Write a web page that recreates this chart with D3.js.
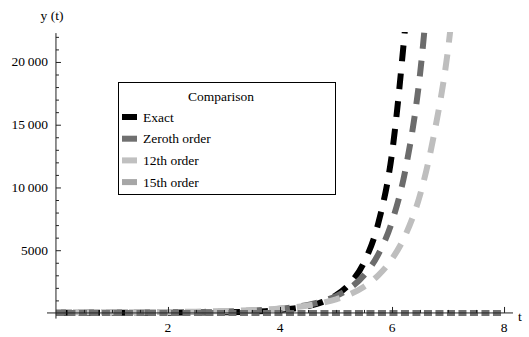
<!DOCTYPE html>
<html>
<head>
<meta charset="utf-8">
<script src="https://cdn.jsdelivr.net/npm/d3@7"></script>
<style>
  html, body { margin: 0; padding: 0; background: #fff; }
  svg { display: block; }
  svg text { font-family: "Liberation Serif", "Tinos", "Times New Roman", "DejaVu Serif", serif !important; }
</style>
</head>
<body>
<svg id="chart" width="529" height="337"></svg>
<script>
// Sample times shared by every series
const tValues = [0, 0.5, 1, 1.5, 2, 2.5, 3, 3.5, 4,
  4.25, 4.5, 4.75, 5, 5.25, 5.5, 5.75, 6, 6.25, 6.5, 6.75, 7, 7.25, 7.5, 7.75, 8];

// y(t) for each solution (null = beyond the plotted range)
const exactValues = [9.5, 10, 11.6, 14.9, 21.1, 33.2, 57.5, 110, 233,
  352, 545, 866, 1410, 2354, 4029, 7071, 12721, 23500,
  null, null, null, null, null, null, null];
const zerothValues = [28.6, 29.7, 33.4, 40.4, 52.9, 74.8, 114, 188, 335,
  460, 645, 920, 1339, 1985, 3003, 4630, 7273, 11657, 19022, 31690,
  null, null, null, null, null];
const order12Values = [47.8, 49.3, 54.2, 63.3, 78.8, 104, 147, 221, 353,
  457, 601, 802, 1088, 1499, 2096, 2980, 4302, 6310, 9398, 14221, 21000, 32000,
  null, null, null];
const order15Values = [0, 0, 0, 0, 0, 0, 0, 0, 0,
  0, 0, 0, 0, 0, 0, 0, 0, 0, 0, 0, 0, 0, 0, 0, 0];

const seriesNames = ["Exact", "Zeroth order", "12th order", "15th order"];
const seriesValues = [exactValues, zerothValues, order12Values, order15Values];
const seriesColors = ["#000000", "#6c6c6c", "#bebebe", "#707070"];
const legendColors = ["#000000", "#707070", "#c0c0c0", "#a6a6a6"];
const seriesDash = ["16,12", "16,12", "16,12", "8,3.5"];
const seriesDashOffset = [0, 6, 11, 0];

const xTicks = [2, 4, 6, 8];
const yTicks = [5000, 10000, 15000, 20000];
const yTickLabels = ["5000", "10\u2009000", "15\u2009000", "20\u2009000"];

const svg = d3.select("#chart");

const x = d3.scaleLinear().domain([-0.16, 8.16]).range([47, 513]);
const y = d3.scaleLinear().domain([-450, 22300]).range([318.6, 33.1]);

// Clip region for the curves
svg.append("defs").append("clipPath").attr("id", "plotClip")
  .append("rect")
  .attr("x", x(-0.16)).attr("y", 32)
  .attr("width", x(8.16) - x(-0.16)).attr("height", y(-450) - 32);

const line = d3.line()
  .defined(d => d[1] !== null)
  .x(d => x(d[0]))
  .y(d => y(d[1]))
  .curve(d3.curveMonotoneX);

const curves = svg.append("g").attr("clip-path", "url(#plotClip)");
seriesValues.forEach((vals, i) => {
  const pts = tValues.map((t, j) => [t, vals[j]]);
  curves.append("path")
    .attr("d", line(pts))
    .attr("fill", "none")
    .attr("stroke", seriesColors[i])
    .attr("stroke-width", 6)
    .attr("stroke-dasharray", seriesDash[i])
    .attr("stroke-dashoffset", seriesDashOffset[i])
    .attr("stroke-linecap", "butt");
});

// Horizontal axis through y = 0, ticks pointing up
const xAxis = d3.axisTop(x)
  .tickValues(d3.range(0.5, 8.01, 0.5))
  .tickSize(3)
  .tickFormat("");
const gx = svg.append("g").attr("transform", `translate(0,${y(0)})`).call(xAxis);
gx.select(".domain").attr("d", `M${x(-0.16)},0H${x(8.16)}`).attr("stroke", "#222");
gx.selectAll(".tick line").attr("stroke", "#222")
  .attr("y2", d => xTicks.includes(d) ? -6 : -3);

svg.append("g").selectAll("text").data(xTicks).join("text")
  .attr("x", d => x(d))
  .attr("y", 332)
  .attr("text-anchor", "middle")
  .attr("font-size", "13.5px")
  .text(d => d);

svg.append("text").attr("x", 518).attr("y", 321)
  .attr("font-size", "13.5px").text("t");

// Vertical axis through t = 0, ticks pointing right
const yAxis = d3.axisRight(y)
  .tickValues(d3.range(1000, 22001, 1000))
  .tickSize(3)
  .tickFormat("");
const gy = svg.append("g").attr("transform", `translate(${x(0)},0)`).call(yAxis);
gy.select(".domain").attr("d", `M0,${y(-450)}V${y(22300)}`).attr("stroke", "#222");
gy.selectAll(".tick line").attr("stroke", "#222")
  .attr("x2", d => yTicks.includes(d) ? 5 : 3);

svg.append("g").selectAll("text").data(yTicks).join("text")
  .attr("x", 48)
  .attr("y", d => y(d) + 4.5)
  .attr("text-anchor", "end")
  .attr("font-size", "13.5px")
  .text((d, i) => yTickLabels[i]);

svg.append("text").attr("x", 52).attr("y", 20)
  .attr("text-anchor", "middle")
  .attr("font-size", "13.5px").text("y (t)");

// Legend
const legend = svg.append("g");
legend.append("rect")
  .attr("x", 118.5).attr("y", 82.5)
  .attr("width", 217).attr("height", 112)
  .attr("fill", "#fff").attr("stroke", "#000").attr("stroke-width", 1);
legend.append("text").attr("x", 221).attr("y", 101)
  .attr("text-anchor", "middle").attr("font-size", "13.5px").text("Comparison");
const rows = legend.selectAll("g.row").data(seriesNames).join("g")
  .attr("class", "row")
  .attr("transform", (d, i) => `translate(0,${117 + i * 21.7})`);
rows.append("rect")
  .attr("x", 122).attr("y", -3)
  .attr("width", 15).attr("height", 6)
  .attr("fill", (d, i) => legendColors[i]);
rows.append("text")
  .attr("x", 143).attr("y", 4.5)
  .attr("font-size", "13.5px")
  .text(d => d);
</script>
</body>
</html>
